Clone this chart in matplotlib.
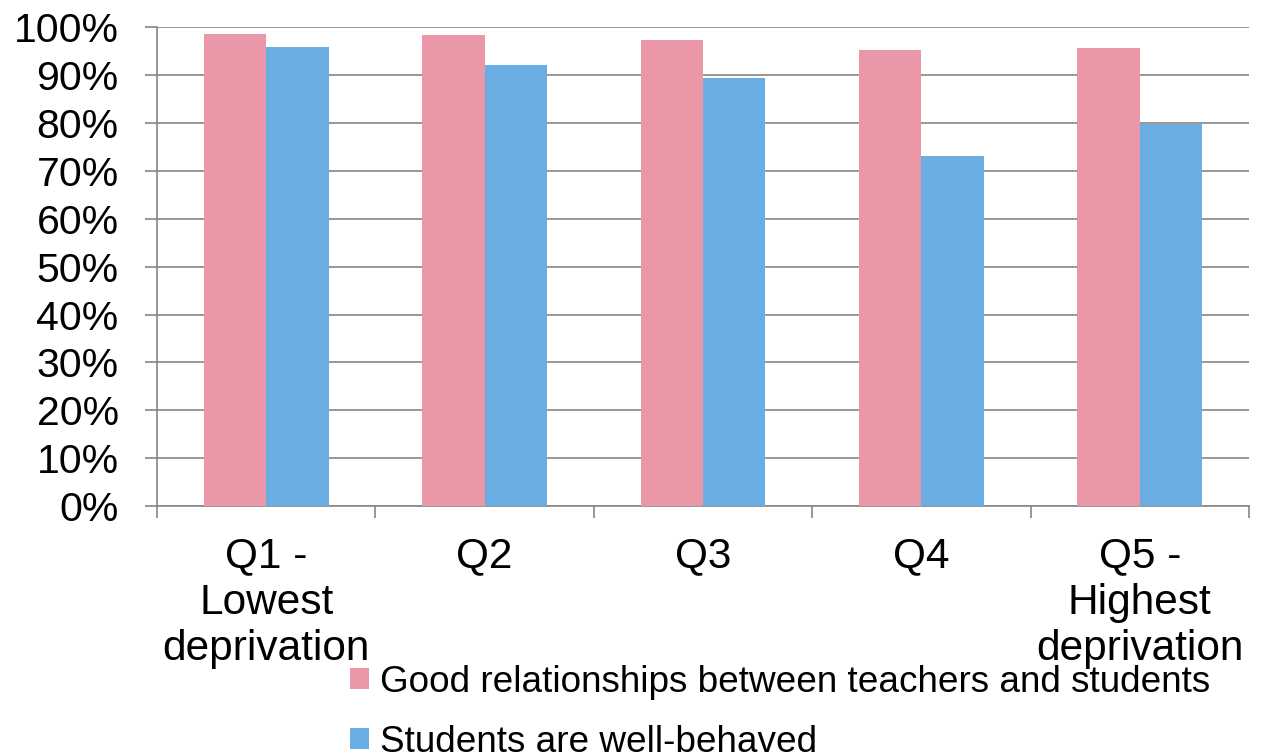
import matplotlib.pyplot as plt
import numpy as np

plt.rcParams['font.family'] = ['Liberation Sans', 'DejaVu Sans']

# Share of responses per deprivation quintile (%)
quintiles = ['Q1 -\nLowest\ndeprivation', 'Q2', 'Q3', 'Q4', 'Q5 -\nHighest\ndeprivation']
good_relationships = [98.5, 98.4, 97.4, 95.3, 95.7]
well_behaved = [95.8, 92.2, 89.5, 73.2, 79.8]
series_names = ['Good relationships between teachers and students',
                'Students are well-behaved']
yticks = list(range(0, 101, 10))

pink = '#EA98A7'
blue = '#6AADE2'
grid_color = '#868686'

fig = plt.figure(figsize=(12.61, 7.56), dpi=100)
ax = fig.add_axes([0.1245, 0.3307, 0.866, 0.6332])

x = np.arange(len(quintiles))
width = 0.286
b1 = ax.bar(x - width / 2, good_relationships, width, color=pink, label=series_names[0], zorder=3)
b2 = ax.bar(x + width / 2, well_behaved, width, color=blue, label=series_names[1], zorder=3)

ax.set_xlim(-0.5, len(quintiles) - 0.5)
ax.set_ylim(0, 100)

# y axis: gridlines every 10%
ax.set_yticks(yticks)
ax.set_yticklabels([f'{v}%' for v in yticks], fontsize=29.5)
ax.yaxis.grid(True, color=grid_color, linewidth=1.2, zorder=0)
ax.tick_params(axis='y', length=8.6, width=1.2, color=grid_color, pad=19)

# x axis: labels at centres, tick marks between categories
ax.set_xticks(x)
ax.set_xticklabels(quintiles, fontsize=30.5, linespacing=1.2, va='top')
ax.set_xticks(np.arange(len(quintiles) + 1) - 0.5, minor=True)
ax.tick_params(axis='x', which='major', length=0, pad=22)
ax.tick_params(axis='x', which='minor', length=8.6, width=1.2, color=grid_color)

for side in ['top', 'right']:
    ax.spines[side].set_visible(False)
for side in ['left', 'bottom']:
    ax.spines[side].set_color(grid_color)
    ax.spines[side].set_linewidth(1.2)

fig.legend(handles=[b1, b2], loc='upper left', bbox_to_anchor=(0.2776, 0.121),
           frameon=False, fontsize=26.6, handlelength=0.5, handleheight=0.5,
           handletextpad=0.3, labelspacing=0.68, borderpad=0, borderaxespad=0)

fig.savefig('out.png', dpi=100)
